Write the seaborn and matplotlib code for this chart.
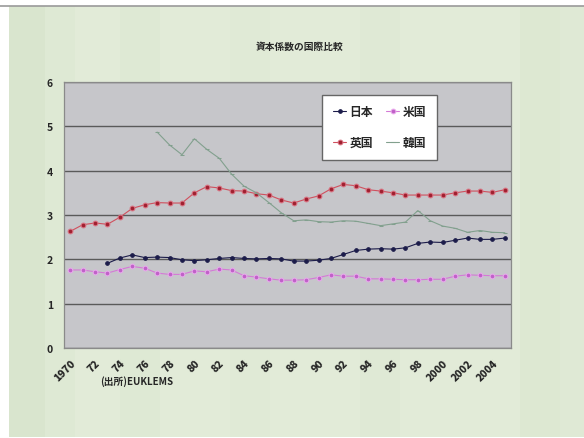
import numpy as np
import pandas as pd
import matplotlib
matplotlib.use("Agg")
import matplotlib.pyplot as plt
from matplotlib.patches import Rectangle
import seaborn as sns

# Capital coefficient by country, 1970-2005 (source: EU KLEMS)
years = list(range(1970, 2006))

japan = [np.nan, np.nan, np.nan, 1.91, 2.03, 2.10, 2.04, 2.05, 2.04, 1.99,
         1.97, 1.99, 2.02, 2.04, 2.02, 2.01, 2.02, 2.01, 1.96, 1.96,
         1.98, 2.02, 2.11, 2.20, 2.23, 2.24, 2.23, 2.26, 2.36, 2.39,
         2.38, 2.43, 2.48, 2.45, 2.45, 2.48]

usa = [1.76, 1.76, 1.72, 1.69, 1.77, 1.84, 1.80, 1.69, 1.66, 1.66,
       1.74, 1.72, 1.78, 1.76, 1.63, 1.60, 1.56, 1.53, 1.53, 1.54,
       1.59, 1.65, 1.62, 1.62, 1.56, 1.56, 1.55, 1.54, 1.54, 1.55,
       1.55, 1.62, 1.65, 1.64, 1.63, 1.63]

uk = [2.63, 2.78, 2.82, 2.79, 2.95, 3.15, 3.23, 3.28, 3.27, 3.27,
      3.50, 3.64, 3.61, 3.55, 3.54, 3.48, 3.45, 3.34, 3.27, 3.36,
      3.43, 3.59, 3.69, 3.66, 3.57, 3.54, 3.50, 3.45, 3.45, 3.45,
      3.45, 3.50, 3.54, 3.54, 3.51, 3.57]

korea = [np.nan] * 7 + [4.87, 4.58, 4.36,
         4.72, 4.48, 4.28, 3.92, 3.65, 3.50, 3.28, 3.05, 2.87, 2.89,
         2.85, 2.84, 2.87, 2.86, 2.81, 2.76, 2.80, 2.84, 3.10, 2.87,
         2.75, 2.70, 2.61, 2.65, 2.61, 2.60]

series_names = ["日本", "英国", "米国", "韓国"]
tick_labels = ["1970", "72", "74", "76", "78", "80", "82", "84", "86", "88",
               "90", "92", "94", "96", "98", "2000", "2002", "2004"]
title = "資本係数の国際比較"
source = "(出所)EUKLEMS"

df = pd.DataFrame({"year": years, "日本": japan, "米国": usa,
                   "英国": uk, "韓国": korea})

sns.set_style("white")
plt.rcParams["font.family"] = ["Noto Sans CJK JP", "DejaVu Sans"]

fig = plt.figure(figsize=(5.84, 4.39), dpi=100)
fig.patch.set_facecolor("white")

# pale green slide background with soft vertical bands
fig.patches.append(Rectangle((9 / 584, 1 / 439), 575 / 584, 431 / 439,
                             transform=fig.transFigure, facecolor="#e2ebd8",
                             edgecolor="none", zorder=-10))
bands = [(9, 45, "#d3e1c8", 0.6), (45, 75, "#d9e6cf", 0.4),
         (120, 160, "#d8e5cd", 0.3), (230, 270, "#dde8d3", 0.3),
         (360, 400, "#dae6d0", 0.25), (520, 560, "#d6e4cb", 0.4),
         (560, 584, "#dce8d2", 0.4)]
for x0, x1, c, a in bands:
    fig.patches.append(Rectangle((x0 / 584, 1 / 439), (x1 - x0) / 584, 431 / 439,
                                 transform=fig.transFigure, facecolor=c,
                                 alpha=a, edgecolor="none", zorder=-9))
fig.lines.append(plt.Line2D([0, 1], [1 - 7 / 439, 1 - 7 / 439],
                            transform=fig.transFigure, color="#9a9a9a", lw=1.2))

ax = fig.add_axes([64 / 584, 1 - 349 / 439, 447 / 584, 266 / 439])
ax.set_facecolor("#c6c6ca")

styles = {
    "日本": dict(color="#1c1c4a", marker="o", markersize=2.6, lw=0.8,
                markerfacecolor="#1c1c4a", markeredgecolor="#1c1c4a"),
    "英国": dict(color="#d0505e", marker="o", markersize=3.4, lw=0.8,
                markerfacecolor="#a02030", markeredgecolor="#d87080"),
    "米国": dict(color="#d47ad6", marker="o", markersize=3.4, lw=0.8,
                markerfacecolor="#c060c8", markeredgecolor="#e8a8ec"),
    "韓国": dict(color="#82a08e", marker="_", markersize=3, lw=0.8,
                markeredgecolor="#82a08e"),
}

for name in series_names:
    sns.lineplot(data=df, x="year", y=name, ax=ax, label=name,
                 **styles[name])

ax.set_xlim(1969.5, 2005.5)
ax.set_ylim(0, 6)
ax.set_yticks(range(0, 7))
ax.set_yticklabels([str(v) for v in range(0, 7)], fontsize=7.5,
                   fontweight="bold")
ax.yaxis.grid(True, color="#5a5a5a", lw=1.0)
ax.set_axisbelow(True)

ax.set_xticks(list(range(1970, 2005, 2)))
ax.set_xticklabels(tick_labels, rotation=45, ha="right", va="top",
                   rotation_mode="anchor", fontsize=7.5, fontweight="heavy")
ax.set_xticks(np.arange(1970.5, 2005.5, 1), minor=True)
ax.tick_params(axis="x", which="major", length=0, pad=7)
ax.tick_params(axis="x", which="minor", length=3, direction="inout",
               color="#707070", width=0.8)
ax.tick_params(axis="y", length=0, pad=8)
ax.set_xlabel("")
ax.set_ylabel("")

for side in ["left", "bottom", "top", "right"]:
    ax.spines[side].set_color("#8a8a8a")
    ax.spines[side].set_linewidth(0.9)

leg = ax.legend(loc="upper left", bbox_to_anchor=(0.565, 0.975), ncol=2,
                frameon=True, fancybox=False,
                prop={"weight": "bold", "size": 8.5},
                handlelength=1.1, handletextpad=0.3, columnspacing=1.1,
                labelspacing=1.5, borderpad=0.9)
leg.get_frame().set_facecolor("white")
leg.get_frame().set_edgecolor("#666666")
leg.get_frame().set_alpha(1)

fig.text(300 / 584, 1 - 47 / 439, title, ha="center", va="center",
         fontsize=7, fontweight="bold")
fig.text(100 / 584, 1 - 382 / 439, source, ha="left", va="center",
         fontsize=7, fontweight="bold")

fig.savefig("out.png", dpi=100, facecolor=fig.get_facecolor())
